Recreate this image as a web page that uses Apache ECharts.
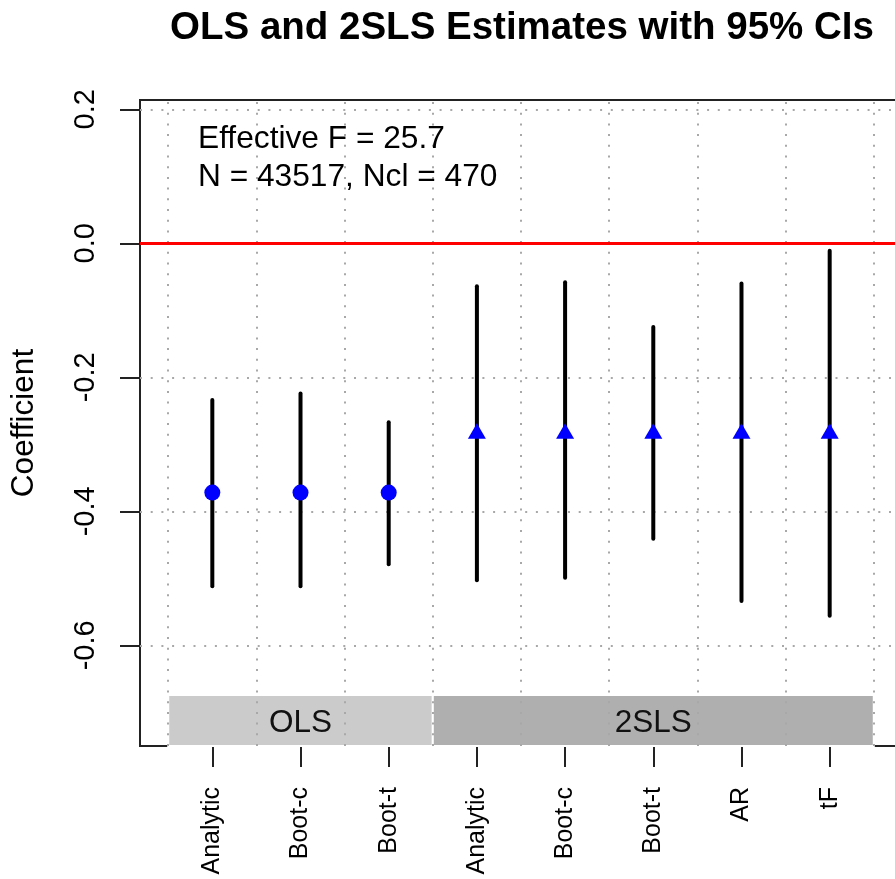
<!DOCTYPE html>
<html>
<head>
<meta charset="utf-8">
<script src="https://cdn.jsdelivr.net/npm/echarts@6/dist/echarts.min.js"></script>
<style>
html,body{margin:0;padding:0;background:#fff;}
#chart{width:895px;height:879px;}
</style>
</head>
<body>
<div id="chart"></div>
<script>
// ---- data ----
const categories = ['Analytic','Boot-c','Boot-t','Analytic','Boot-c','Boot-t','AR','tF'];
const positions  = [1,2,3,4,5,6,7,8];
const estimates  = [-0.372,-0.372,-0.372,-0.284,-0.284,-0.284,-0.284,-0.284];
const lowerCI    = [-0.512,-0.512,-0.479,-0.503,-0.499,-0.441,-0.534,-0.556];
const upperCI    = [-0.234,-0.224,-0.267,-0.064,-0.058,-0.125,-0.060,-0.011];
const groupNames  = ['OLS','2SLS'];
const groupStart  = [0.5, 3.5];
const groupEnd    = [3.5, 8.5];
const groupCenter = [2, 6];
const yTicks = [0.2, 0.0, -0.2, -0.4, -0.6];
const xGridLines = [0.5,1.5,2.5,3.5,4.5,5.5,6.5,7.5,8.5];
const annotation = ['Effective F = 25.7', 'N = 43517, Ncl = 470'];
const titleText = 'OLS and 2SLS Estimates with 95% CIs';
const yLabel = 'Coefficient';

const X_MIN = 0.18, X_MAX = 8.82;
const Y_MIN = -0.7503, Y_MAX = 0.2139;
const BAND_TOP = -0.6742;
const BAND_LABEL_Y = -0.7157;
const FONT = '"Liberation Sans", Arial, Helvetica, sans-serif';

const olsIdx = [0,1,2], tslsIdx = [3,4,5,6,7];

const chart = echarts.init(document.getElementById('chart'), null, {renderer:'canvas'});

const option = {
  animation: false,
  backgroundColor: '#fff',
  title: {
    text: titleText,
    left: 517, top: 4, textAlign: 'center',
    textStyle: {fontFamily: FONT, fontSize: 38.5, fontWeight: 'bold', color: '#000'}
  },
  grid: {
    left: 140, top: 100, right: -7, bottom: 133,
    containLabel: false, outerBoundsMode: 'none',
    show: true, borderColor: '#222', borderWidth: 2, backgroundColor: 'transparent'
  },
  xAxis: {
    type: 'value', min: X_MIN, max: X_MAX,
    axisLine: {show: true, onZero: false, lineStyle: {color: '#222', width: 2}},
    axisTick: {show: true, length: 21, inside: false, customValues: positions, lineStyle: {color: '#222', width: 2}},
    axisLabel: {
      show: true, customValues: positions, rotate: 90, margin: 41,
      fontFamily: FONT, fontSize: 25, color: '#000',
      formatter: v => { const i = positions.indexOf(Math.round(v)); return i >= 0 ? categories[i] : ''; }
    },
    splitLine: {show: false}
  },
  yAxis: {
    type: 'value', min: Y_MIN, max: Y_MAX,
    name: yLabel, nameLocation: 'middle', nameRotate: 90, nameGap: 100,
    nameTextStyle: {fontFamily: FONT, fontSize: 31.5, color: '#000'},
    axisLine: {show: true, onZero: false, lineStyle: {color: '#222', width: 2}},
    axisTick: {show: true, length: 20, inside: false, customValues: yTicks, lineStyle: {color: '#222', width: 2}},
    axisLabel: {
      show: true, customValues: yTicks, rotate: 90, margin: 40,
      fontFamily: FONT, fontSize: 29, color: '#000',
      formatter: v => v.toFixed(1)
    },
    splitLine: {show: false}
  },
  graphic: [{
    type: 'text', left: 198, top: 120, z: 100,
    style: {text: annotation.join('\n'), font: '31.7px ' + FONT, fill: '#000', lineHeight: 38}
  }],
  series: [
    {
      name: 'bands', type: 'custom', z: 1,
      data: groupNames.map((n, i) => [groupStart[i], groupEnd[i], groupCenter[i]]),
      renderItem: (params, api) => {
        const i = params.dataIndex;
        const p0 = api.coord([api.value(0), BAND_TOP]);
        const p1 = api.coord([api.value(1), Y_MIN]);
        const pc = api.coord([api.value(2), BAND_LABEL_Y]);
        return {type: 'group', children: [
          {type: 'rect', shape: {x: p0[0], y: p0[1], width: p1[0]-p0[0], height: p1[1]-p0[1]},
           style: {fill: i === 0 ? '#cbcbcb' : '#afafaf', stroke: '#fff', lineWidth: 2}},
          {type: 'text', z2: 10, style: {text: groupNames[i], x: pc[0], y: pc[1], align: 'center', verticalAlign: 'middle',
            font: '31.5px ' + FONT, fill: '#111'}}
        ]};
      },
      markLine: {
        silent: true, symbol: ['none','none'], z: 2, label: {show: false},
        lineStyle: {color: '#a8a8a8', width: 2, type: [2, 8.7]},
        data: xGridLines.map(x => ({xAxis: x})).concat(yTicks.map(y => ({yAxis: y})))
      }
    },
    {
      name: 'ci', type: 'custom', z: 4,
      data: positions.map((x, i) => [x, lowerCI[i], upperCI[i]]),
      renderItem: (params, api) => {
        const a = api.coord([api.value(0), api.value(1)]);
        const b = api.coord([api.value(0), api.value(2)]);
        return {type: 'line', shape: {x1: a[0], y1: a[1], x2: b[0], y2: b[1]},
                style: {stroke: '#000', lineWidth: 4, lineCap: 'round'}};
      },
      markLine: {
        silent: true, symbol: ['none','none'], z: 3, label: {show: false},
        lineStyle: {color: '#ff0000', width: 3, type: 'solid'},
        data: [{yAxis: 0}]
      }
    },
    {
      name: 'OLS', type: 'scatter', z: 5,
      symbol: 'circle', symbolSize: 16,
      itemStyle: {color: '#0000ff', opacity: 1},
      data: olsIdx.map(i => [positions[i], estimates[i]])
    },
    {
      name: '2SLS', type: 'scatter', z: 5,
      symbol: 'triangle', symbolSize: [18, 15.5], symbolOffset: [0, -2.6],
      itemStyle: {color: '#0000ff', opacity: 1},
      data: tslsIdx.map(i => [positions[i], estimates[i]])
    }
  ]
};
chart.setOption(option);
</script>
</body>
</html>
